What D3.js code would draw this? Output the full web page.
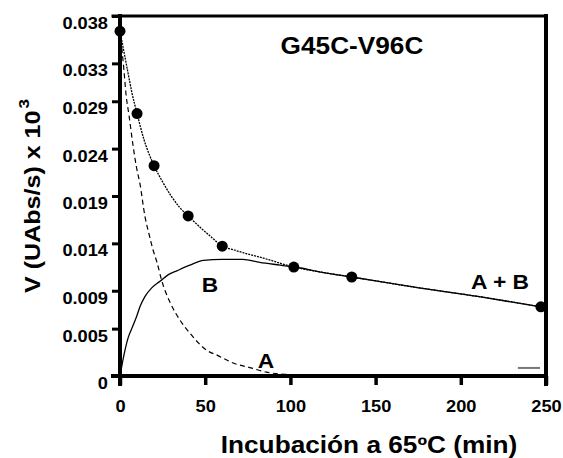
<!DOCTYPE html>
<html>
<head>
<meta charset="utf-8">
<script src="https://cdn.jsdelivr.net/npm/d3@7"></script>
<style>
  body { margin: 0; background: #fff; }
  svg { display: block; }
  text { font-family: "Liberation Sans", Arial, sans-serif; font-weight: bold; fill: #000; }
</style>
</head>
<body>
<div id="chart"></div>
<script>
// valores
const xTicks = [0, 50, 100, 150, 200, 250];
const yTicks = [0, 0.005, 0.009, 0.014, 0.019, 0.024, 0.029, 0.033, 0.038];
const yTickLabels = ["0", "0.005", "0.009", "0.014", "0.019", "0.024", "0.029", "0.033", "0.038"];

// puntos experimentales (min, V)
const pointT = [0, 10, 20, 40, 60, 102, 136, 247];
const pointV = [0.0364, 0.0277, 0.0222, 0.0169, 0.0137, 0.0115, 0.01045, 0.0073];

// curva A (discontinua)
const curveA = [[0, 0.0364], [2.3, 0.0323], [3.5, 0.0298], [5.3, 0.0275], [7.6, 0.0244], [9.5, 0.0222],
  [11.7, 0.0203], [14.7, 0.0168], [17, 0.0150], [19.4, 0.0133], [21.7, 0.0120], [24.6, 0.0100],
  [29.3, 0.0078], [35.2, 0.0059], [41.1, 0.0045], [46, 0.0035], [51, 0.0027], [57, 0.0022],
  [66, 0.0014], [78, 0.0008], [86, 0.0004], [95, 0.0002], [106, 0.0001]];

// curva B (continua)
const curveB = [[0, 0], [1, 0.001], [2.9, 0.0027], [4.9, 0.0041], [6.9, 0.0050], [9.8, 0.0063],
  [11.7, 0.0073], [14.7, 0.0084], [18.6, 0.0093], [23.5, 0.0100], [28.4, 0.0107], [33.3, 0.0111],
  [41, 0.0117], [49, 0.0122], [60, 0.0123], [72, 0.0123], [82, 0.0120], [94, 0.0117], [106, 0.0114],
  [117, 0.0110], [136, 0.01045], [172, 0.0094], [210, 0.0084], [247, 0.0073]];

// curva A + B (punteada)
const curveAB = [[0, 0.0364], [1.8, 0.0347], [4.7, 0.0320], [7, 0.0299], [10, 0.0277], [14, 0.0250],
  [20, 0.0222], [25, 0.0205], [30, 0.0190], [35, 0.0178], [40, 0.0169], [47, 0.0157], [54, 0.0146],
  [60, 0.0137], [67, 0.0133], [74.5, 0.0129], [84, 0.01245], [102, 0.0115], [117, 0.0110],
  [136, 0.01045], [172, 0.0094], [210, 0.0084], [247, 0.0073]];

const grayMark = [[233.5, 0.00085], [246.5, 0.00085]];

const width = 563, height = 458;
const S = 1.14; // las letras del original son más anchas que Arial

const svg = d3.select('#chart').append('svg')
    .attr('width', width)
    .attr('height', height);

const x = d3.scaleLinear().domain([0, 250]).range([120, 546]);
const y = d3.scaleLinear().domain([0, 0.038]).range([376, 16]);

// ejes
const yAxis = svg.append('g')
    .attr('transform', `translate(${x(0)},0)`)
    .call(d3.axisLeft(y)
        .tickValues(yTicks)
        .tickFormat((d, i) => yTickLabels[i])
        .tickSize(8)
        .tickSizeOuter(0));
yAxis.select('.domain').remove();
yAxis.selectAll('line').attr('stroke', '#000').attr('stroke-width', 3);
yAxis.selectAll('text')
    .attr('x', -12 / S)
    .attr('dy', '0.78em')
    .attr('transform', `scale(${S},1)`)
    .style('font-size', '16px');

const xAxis = svg.append('g')
    .attr('transform', `translate(0,${y(0)})`)
    .call(d3.axisBottom(x)
        .tickValues(xTicks)
        .tickSize(9)
        .tickSizeOuter(0));
xAxis.select('.domain').remove();
xAxis.selectAll('line').attr('stroke', '#000').attr('stroke-width', 3.5);
xAxis.selectAll('text')
    .attr('y', 36)
    .attr('dy', 0)
    .attr('transform', `scale(${S},1)`)
    .style('font-size', '16px');

// marco
const frame = svg.append('g').attr('stroke', '#000').attr('stroke-linecap', 'square');
frame.append('line').attr('x1', x(0)).attr('x2', x(0)).attr('y1', y(0.038)).attr('y2', y(0) + 8).attr('stroke-width', 4);
frame.append('line').attr('x1', x(0) - 7).attr('x2', x(250)).attr('y1', y(0)).attr('y2', y(0)).attr('stroke-width', 4);
frame.append('line').attr('x1', x(0) - 7).attr('x2', x(250)).attr('y1', y(0.038)).attr('y2', y(0.038)).attr('stroke-width', 3);
frame.append('line').attr('x1', x(250)).attr('x2', x(250)).attr('y1', y(0.038)).attr('y2', y(0) + 8).attr('stroke-width', 4);

// curvas
const line = d3.line()
    .x(d => x(d[0]))
    .y(d => y(d[1]))
    .curve(d3.curveMonotoneX);

svg.append('path')
    .datum(curveA)
    .attr('d', line)
    .attr('fill', 'none')
    .attr('stroke', '#000')
    .attr('stroke-width', 1.2)
    .attr('stroke-dasharray', '5,3.5');

svg.append('path')
    .datum(curveB)
    .attr('d', line)
    .attr('fill', 'none')
    .attr('stroke', '#000')
    .attr('stroke-width', 1.3);

svg.append('path')
    .datum(curveAB)
    .attr('d', line)
    .attr('fill', 'none')
    .attr('stroke', '#000')
    .attr('stroke-width', 1.3)
    .attr('stroke-dasharray', '2,1');

svg.append('path')
    .datum(grayMark)
    .attr('d', d3.line().x(d => x(d[0])).y(d => y(d[1])))
    .attr('stroke', '#777')
    .attr('stroke-width', 2);

// puntos
svg.selectAll('.pt')
    .data(pointT.map((t, i) => [t, pointV[i]]))
    .join('circle')
    .attr('class', 'pt')
    .attr('cx', d => x(d[0]))
    .attr('cy', d => y(d[1]))
    .attr('r', 5.5)
    .attr('fill', '#000');

// textos
function label(txt, px, py, size, anchor = 'middle', rot = 0) {
  return svg.append('text')
      .attr('transform', `translate(${px},${py}) rotate(${rot}) scale(${S},1)`)
      .attr('text-anchor', anchor)
      .style('font-size', size + 'px')
      .text(txt);
}

label('G45C-V96C', 352, 54, 23);
label('B', 210, 292, 20);
label('A + B', 500, 289, 20);
label('A', 266, 368, 20);
label('Incubación a 65ºC (min)', 369, 453, 23);

const yTitle = label('V (UAbs/s) x 10', 40, 293, 22, 'start', -90);
yTitle.append('tspan')
    .attr('dy', '-0.75em')
    .attr('dx', '0.12em')
    .style('font-size', '15px')
    .text('3');
</script>
</body>
</html>
